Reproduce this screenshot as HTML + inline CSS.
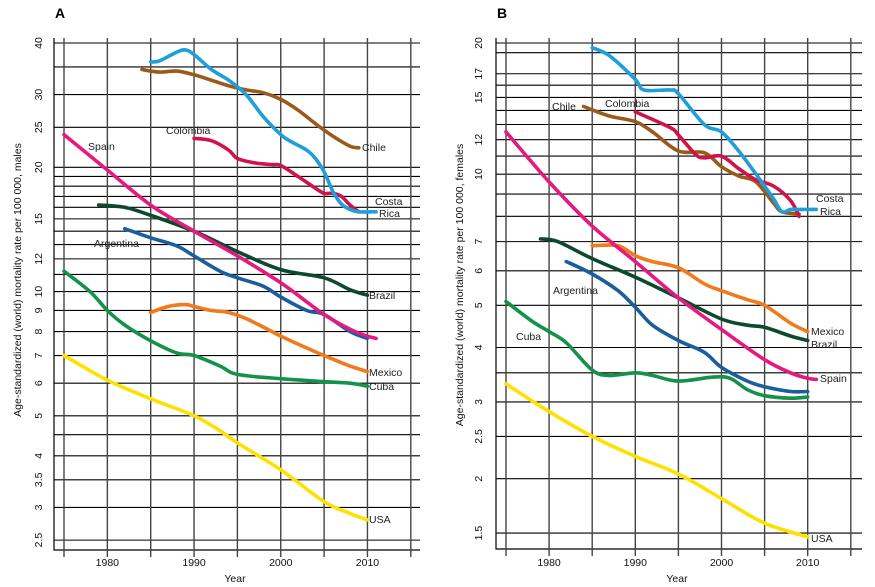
<!DOCTYPE html>
<html><head><meta charset="utf-8"><style>
html,body{margin:0;padding:0;background:#fff;}
svg{display:block;font-family:"Liberation Sans",sans-serif;}
</style></head><body>
<svg id="chart" width="875" height="587" viewBox="0 0 875 587" xmlns="http://www.w3.org/2000/svg"></svg>
<script>
// ---- Panel A (males) data ----
const A_years = {
  chile:[1984,1986,1988,1990,1992,1994,1996,1998,2000,2002,2004,2006,2008,2009],
  costaRica:[1985,1986,1988,1989,1990,1992,1994,1996,1998,2000,2001,2003,2004,2005,2006,2007,2008,2009,2011],
  colombia:[1990,1992,1994,1995,1997,1999,2000,2002,2004,2005,2006,2007,2008,2009],
  spain:[1975,1980,1985,1990,1995,2000,2005,2008,2010,2011],
  brazil:[1979,1982,1985,1990,1995,2000,2005,2008,2010],
  argentina:[1982,1985,1988,1990,1993,1995,1998,2000,2003,2005,2008,2010],
  mexico:[1985,1987,1989,1990,1992,1994,1996,1998,2000,2003,2005,2008,2010],
  cuba:[1975,1978,1980,1982,1985,1988,1990,1993,1995,2000,2005,2008,2010],
  usa:[1975,1980,1985,1990,1993,1995,2000,2005,2008,2010]
};
const A_values = {
  chile:[34.5,34,34.2,33.5,32.5,31.5,30.8,30.3,29.2,27.5,25.5,23.8,22.5,22.3],
  costaRica:[36,36.2,38,38.5,37.5,34.5,32.5,30,26.5,24,23.2,22,21,19.5,17.5,16.3,15.8,15.6,15.6],
  colombia:[23.5,23.2,22,21,20.5,20.3,20.2,19,17.8,17.3,17.3,17,16.2,15.6],
  spain:[24,19.7,16.2,14,12.2,10.5,8.8,8.1,7.8,7.7],
  brazil:[16.2,16,15.3,14,12.5,11.3,10.8,10.1,9.8],
  argentina:[14.2,13.5,12.9,12.2,11.2,10.8,10.3,9.7,9,8.8,8,7.7],
  mexico:[8.9,9.2,9.3,9.2,9.0,8.9,8.6,8.2,7.8,7.3,7.0,6.6,6.4],
  cuba:[11.2,10,9.0,8.3,7.6,7.1,7.0,6.6,6.3,6.15,6.05,6.0,5.9],
  usa:[7.0,6.1,5.5,5.0,4.6,4.3,3.7,3.1,2.9,2.8]
};
// ---- Panel B (females) data ----
const B_years = {
  costaRica:[1985,1987,1990,1991,1994,1995,1998,2000,2002,2004,2006,2007,2008,2009,2011],
  chile:[1984,1987,1990,1992,1995,1998,2000,2002,2004,2006,2007,2009],
  colombia:[1990,1994,1995,1997,1998,2000,2002,2004,2006,2008,2009],
  spain:[1975,1980,1985,1990,1995,2000,2005,2008,2010,2011],
  brazil:[1979,1981,1985,1990,1995,2000,2003,2005,2008,2010],
  mexico:[1985,1988,1990,1992,1995,1998,2000,2003,2005,2008,2010],
  argentina:[1982,1985,1988,1990,1992,1995,1998,2000,2003,2005,2008,2010],
  cuba:[1975,1978,1980,1982,1985,1987,1990,1992,1995,1999,2001,2003,2005,2008,2010],
  usa:[1975,1980,1985,1990,1995,2000,2005,2010]
};
const B_values = {
  costaRica:[19.5,18.7,16.5,15.6,15.6,15.3,13,12.5,11.3,10,8.8,8.2,8.3,8.3,8.3],
  chile:[14.3,13.6,13.2,12.5,11.3,11.2,10.4,9.9,9.6,8.6,8.2,8.1],
  colombia:[13.9,12.8,12.3,11.1,10.9,11.0,10.3,9.7,9.4,8.7,8.0],
  spain:[12.5,9.6,7.6,6.3,5.2,4.4,3.75,3.5,3.4,3.38],
  brazil:[7.1,7.0,6.4,5.8,5.2,4.65,4.5,4.45,4.25,4.15],
  mexico:[6.85,6.85,6.5,6.3,6.1,5.6,5.4,5.15,5.0,4.55,4.35],
  argentina:[6.3,5.9,5.4,4.95,4.5,4.15,3.9,3.6,3.35,3.25,3.17,3.17],
  cuba:[5.1,4.6,4.35,4.1,3.55,3.45,3.5,3.45,3.35,3.42,3.4,3.2,3.1,3.06,3.08],
  usa:[3.3,2.85,2.5,2.25,2.05,1.8,1.58,1.47]
};
const xTickLabels = [1980,1990,2000,2010];
const xGridYears = [1975,1980,1985,1990,1995,2000,2005,2010,2015];
const A_tickLabels = [40,30,25,20,15,12,10,9,8,7,6,5,4,3.5,3,2.5];
const A_gridValues = [40,35,30,25,20,19,18,17,16,15,14,13,12,11,10,9,8,7,6,5,4.5,4,3.5,3,2.5];
const B_tickLabels = [20,17,15,12,10,7,6,5,4,3,2.5,2,1.5];
const B_gridValues = [20,19,17,16,15,14,13,12,11,10,9,8,7,6,5,4,3.5,3,2.5,2,1.5];

const colors = {chile:"#9a5a1c",costaRica:"#1e9fdc",colombia:"#d0134b",spain:"#e5197f",
  brazil:"#0b4a2c",argentina:"#1b5e9e",mexico:"#f07a1c",cuba:"#14924b",usa:"#ffe100"};

const NS="http://www.w3.org/2000/svg";
const svg=document.getElementById('chart');
function mk(tag,attrs,parent){const e=document.createElementNS(NS,tag);for(const k in attrs)e.setAttribute(k,attrs[k]);(parent||svg).appendChild(e);return e;}
function smooth(pts){
  if(pts.length<2)return "";
  let d="M"+pts[0][0].toFixed(1)+","+pts[0][1].toFixed(1);
  for(let i=0;i<pts.length-1;i++){
    const p0=pts[Math.max(0,i-1)],p1=pts[i],p2=pts[i+1],p3=pts[Math.min(pts.length-1,i+2)];
    const c1x=p1[0]+(p2[0]-p0[0])/6,c1y=p1[1]+(p2[1]-p0[1])/6;
    const c2x=p2[0]-(p3[0]-p1[0])/6,c2y=p2[1]-(p3[1]-p1[1])/6;
    d+=" C"+c1x.toFixed(1)+","+c1y.toFixed(1)+" "+c2x.toFixed(1)+","+c2y.toFixed(1)+" "+p2[0].toFixed(1)+","+p2[1].toFixed(1);
  }
  return d;
}
function panel(cfg){
  const g=mk('g',{});
  
  
  const x=yr=>cfg.x0+(yr-1975)*cfg.pxYear;
  const y=v=>cfg.yTop+Math.log(cfg.vTop/v)*cfg.pxLn;
  const fr=mk('path',{d:`M${cfg.left},${cfg.yTop-5}V${cfg.bottom}H${cfg.right}`,stroke:"#000","stroke-width":1.2,fill:"none"},g);
  
  
  cfg.grid.forEach(v=>{
    const l=mk('line',{x1:cfg.left,x2:cfg.right,y1:y(v),y2:y(v),stroke:"#000","stroke-width":1.1},g);
    
    
  });
  xGridYears.forEach(yr=>{
    const l=mk('line',{x1:x(yr),x2:x(yr),y1:cfg.yTop-5,y2:cfg.bottom+7,stroke:"#444","stroke-width":1.4},g);
    
    
  });
  xTickLabels.forEach(yr=>{
    const t=mk('text',{x:x(yr),y:566,"font-size":10.5,"text-anchor":"middle",fill:"#111"},g);
    t.textContent=yr;
    
    
  });
  cfg.ticks.forEach(v=>{
    const t=mk('text',{x:0,y:0,"font-size":10.5,"text-anchor":"middle",fill:"#111",transform:`translate(${cfg.tickX},${y(v)}) rotate(-90)`},g);
    t.textContent=v;
    
    
  });
  const yt=mk('text',{x:0,y:0,"font-size":10.5,"text-anchor":"middle",fill:"#111",transform:`translate(${cfg.titleX},${cfg.titleY}) rotate(-90)`},g);
  yt.textContent=cfg.yTitle;
  
  
  const xt=mk('text',{x:cfg.yearX,y:582,"font-size":10.5,"text-anchor":"middle",fill:"#111"},g);
  xt.textContent="Year";
  
  
  const pl=mk('text',{x:cfg.left+1,y:18,"font-size":14,"font-weight":"bold",fill:"#000"},g);
  pl.textContent=cfg.letter;
  
  
  cfg.order.forEach(k=>{
    const pts=cfg.years[k].map((yr,i)=>[x(yr),y(cfg.values[k][i])]);
    const p=mk('path',{d:smooth(pts),stroke:colors[k],"stroke-width":3.6,fill:"none","stroke-linecap":"round","stroke-linejoin":"round"},g);
    
    
  });
  cfg.labels.forEach(L=>{
    const t=mk('text',{x:L[1],y:L[2],"font-size":10.5,fill:"#222"},g);
    t.textContent=L[0];
    
    
  });
}
panel({name:'panel-a-males',letter:'A',x0:64,pxYear:8.67,left:54,right:420,bottom:550,yTop:43,vTop:40,pxLn:179.3,
  grid:A_gridValues,ticks:A_tickLabels,tickX:42,titleX:21,titleY:280,yearX:235,
  yTitle:"Age-standardized (world) mortality rate per 100 000, males",
  years:A_years,values:A_values,
  order:['usa','cuba','mexico','argentina','brazil','spain','colombia','chile','costaRica'],
  labels:[["Spain",88,150],["Colombia",166,134],["Chile",362,151],["Costa",375,205],["Rica",379,217],["Argentina",94,247],["Brazil",369,299],["Mexico",369,376],["Cuba",369,390],["USA",369,523]]
});
panel({name:'panel-b-females',letter:'B',x0:506,pxYear:8.62,left:496,right:862,bottom:549,yTop:43,vTop:20,pxLn:189.2,
  grid:B_gridValues,ticks:B_tickLabels,tickX:482,titleX:463,titleY:285,yearX:677,
  yTitle:"Age-standardized (world) mortality rate per 100 000, females",
  years:B_years,values:B_values,
  order:['usa','cuba','argentina','brazil','mexico','spain','chile','colombia','costaRica'],
  labels:[["Chile",552,110],["Colombia",605,107],["Costa",816,202],["Rica",820,215],["Argentina",553,294],["Cuba",516,340],["Mexico",811,335],["Brazil",811,348],["Spain",820,382],["USA",811,542]]
});
</script>
</body></html>
